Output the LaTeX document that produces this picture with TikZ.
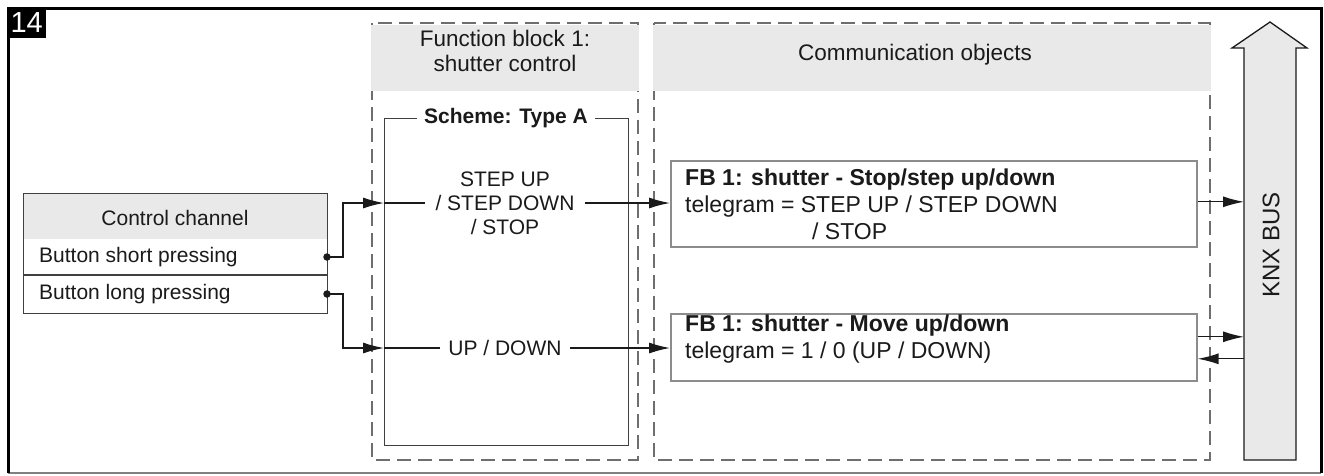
\documentclass[tikz,border=0pt]{standalone}
\usepackage{fontspec}
\setmainfont{Liberation Sans}
\usetikzlibrary{arrows.meta,calc}
\definecolor{hdrgray}{HTML}{E9E9E9}
\definecolor{dashgray}{HTML}{6E6E6E}
\definecolor{boxgray}{HTML}{8C8C8C}
\definecolor{edgedark}{HTML}{404040}
\definecolor{ink}{HTML}{1A1A1A}
\begin{document}
\begin{tikzpicture}[x=1pt,y=-1pt,
  txt/.style={text=ink,inner sep=0pt,font=\fontsize{21pt}{24pt}\selectfont},
  hdrtxt/.style={text=ink,inner sep=0pt,align=center,font=\fontsize{22.5pt}{25pt}\selectfont},
  fbtxt/.style={text=ink,inner sep=0pt,align=left,font=\fontsize{23pt}{27pt}\selectfont},
  lbl/.style={txt,align=center,fill=white,inner xsep=10pt,inner ysep=2pt},
  dashbox/.style={draw=dashgray,line width=2pt,dash pattern=on 14pt off 7pt},
  hdrfill/.style={fill=hdrgray},
  schemebox/.style={draw=edgedark,line width=1.4pt,inner sep=0pt},
  ccbox/.style={draw=edgedark,line width=1.4pt,inner sep=0pt},
  fbbox/.style={draw=boxgray,line width=1.6pt,fill=white,inner sep=0pt},
  dot/.style={circle,fill=ink,inner sep=0pt,minimum size=7.5pt},
  conn/.style={draw=ink,line width=1.3pt,-{Latex[length=21pt,width=11pt]}},
  wire/.style={draw=ink,line width=1.3pt},
  busshape/.style={fill=hdrgray,draw=ink,line width=1.3pt,line join=miter}
]
\useasboundingbox (0,0) rectangle (1324,475);

% outer frame and figure number
\draw[line width=1.5pt,draw=gray] (8,473) -- (1321,473);
\draw[line width=3pt,draw=black] (8,473) -- (8,8) -- (1321,8) -- (1321,473);
\node[fill=black,text=white,anchor=north west,minimum width=39pt,minimum height=31pt,
      inner sep=0pt,font=\fontsize{29pt}{29pt}\selectfont] (num) at (7,7) {14};

% dashed group frames with shaded headers
\draw[dashbox] (372,23) rectangle (638,460);
\fill[hdrfill] (371,25) rectangle (639,91);
\draw[dashbox] (654,23) rectangle (1210,460);
\fill[hdrfill] (653,25) rectangle (1211,91);
\node[hdrtxt] (fbhead) at (505,50.5) {Function block 1:\\shutter control};
\node[hdrtxt] (cohead) at (915,55) {Communication objects};

% scheme box
\node[schemebox,anchor=north west,minimum width=244pt,minimum height=327pt] (scheme) at (384,118) {};
\node[txt,fill=white,inner xsep=7pt,inner ysep=2pt,font=\fontsize{21pt}{24pt}\selectfont\bfseries] (schemetitle) at (506,118) {Scheme: Type A};

% control channel table
\fill[hdrfill] (23,193) rectangle (327,239);
\node[ccbox,anchor=north west,minimum width=304pt,minimum height=120pt] (cc) at (23,193) {};
\draw[draw=edgedark,line width=1.4pt] (cc.west |- 0,275) -- (cc.east |- 0,275);
\node[txt] (cchead) at (175,218) {Control channel};
\node[txt,anchor=west] (short) at (39,257) {Button short pressing};
\node[txt,anchor=west] (long) at (39,294) {Button long pressing};
\node[dot] (dshort) at (327,257) {};
\node[dot] (dlong) at (327,294) {};

% function block signals
\node[lbl] (steplbl) at (505,203) {STEP UP\\/ STEP DOWN\\/ STOP};
\node[lbl,inner xsep=8pt] (udlbl) at (505,348) {UP / DOWN};

% communication objects
\node[fbbox,anchor=north west,minimum width=526pt,minimum height=86pt] (fb1) at (670,160) {};
\node[fbtxt,anchor=west] (fb1txt) at (685,204.5)
  {\textbf{FB 1: shutter - Stop/step up/down}\\telegram = STEP UP / STEP DOWN\\\hspace*{127pt}/ STOP};
\node[fbbox,anchor=north west,minimum width=526pt,minimum height=67pt] (fb2) at (670,313) {};
\node[fbtxt,anchor=west] (fb2txt) at (685,339.5)
  {\textbf{FB 1: shutter - Move up/down}\\telegram = 1 / 0 (UP / DOWN)};

% KNX bus arrow
\draw[busshape] (1244,460) -- (1244,48) -- (1232,48) -- (1270,22) -- (1307,48)
  -- (1296,48) -- (1296,460) -- cycle;
\node[inner sep=0pt,anchor=north west,minimum width=52pt,minimum height=412pt] (bus) at (1244,48) {};
\node[text=ink,inner sep=0pt,rotate=90,font=\fontsize{24pt}{24pt}\selectfont] (knx) at (1271,245) {KNX BUS};

% connectors
\draw[conn] (dshort.center) -- ++(16,0) |- (scheme.west |- steplbl);
\draw[conn] (dlong.center) -- ++(16,0) |- (scheme.west |- udlbl);
\draw[wire] (scheme.west |- steplbl) -- (steplbl.west);
\draw[wire] (scheme.west |- udlbl) -- (udlbl.west);
\draw[conn] (steplbl.east) -- (fb1.west |- steplbl);
\draw[conn] (udlbl.east) -- (fb2.west |- udlbl);
\draw[conn] ($(fb1.east)+(0,-2)$) -- ($(bus.west |- fb1.east)+(0,-2)$);
\draw[conn] ($(fb2.east)+(0,-10.5)$) -- ($(bus.west |- fb2.east)+(0,-10.5)$);
\draw[conn] ($(bus.west |- fb2.east)+(0,11.5)$) -- ($(fb2.east)+(0,11.5)$);
\end{tikzpicture}
\end{document}
